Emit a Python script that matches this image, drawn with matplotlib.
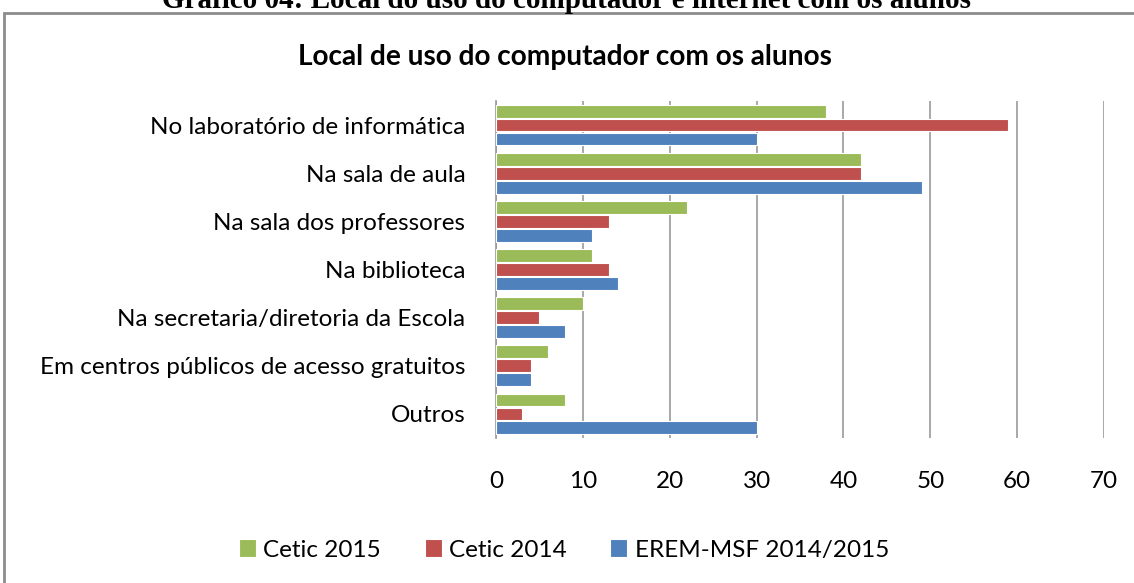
import matplotlib.pyplot as plt
import numpy as np
from matplotlib.patches import Rectangle

# Dados do gráfico
categorias = ["No laboratório de informática", "Na sala de aula", "Na sala dos professores",
              "Na biblioteca", "Na secretaria/diretoria da Escola",
              "Em centros públicos de acesso gratuitos", "Outros"]
cetic_2015 = [38, 42, 22, 11, 10, 6, 8]
cetic_2014 = [59, 42, 13, 13, 5, 4, 3]
erem_msf = [30, 49, 11, 14, 8, 4, 30]
series = ["Cetic 2015", "Cetic 2014", "EREM-MSF 2014/2015"]
cores = ["#9BBB59", "#C0504D", "#4F81BD"]

plt.rcParams['font.family'] = ['Lato', 'DejaVu Sans']

fig = plt.figure(figsize=(11.34, 5.83), dpi=100)
W, H = 1134, 583

# moldura do gráfico
fig.patches.append(Rectangle((4 / W, -0.01), 1140 / W, (583 - 13) / H + 0.01,
                             transform=fig.transFigure, fill=False,
                             edgecolor="#8c8c8c", linewidth=2))
fig.text(0.5, 1.0 - 8 / H, "Gráfico 04: Local do uso do computador e internet com os alunos",
         ha="center", va="baseline", fontsize=21, fontweight="bold",
         family=["Liberation Serif", "DejaVu Serif"])

fig.text(565 / W, 1 - 57 / H, "Local de uso do computador com os alunos",
         ha="center", va="center", fontsize=20.2, fontweight="bold")

ax = fig.add_axes([496 / W, 1 - 438 / H, (1104 - 496) / W, (438 - 101) / H])

y = np.arange(len(categorias))
h = 0.29
for i, (vals, cor, nome) in enumerate(zip([cetic_2015, cetic_2014, erem_msf], cores, series)):
    ax.barh(y + (i - 1) * h, vals, height=h * 0.92, color=cor, edgecolor="white",
            linewidth=0.8, label=nome, zorder=3)

ax.set_xlim(0, 70)
ax.set_ylim(len(categorias) - 0.5, -0.5)
ax.set_xticks(range(0, 71, 10))
ax.set_yticks(y)
ax.set_yticklabels(categorias, fontsize=17.5)
ax.tick_params(axis="x", labelsize=17.5, length=0, pad=24)
ax.tick_params(axis="y", length=0, pad=22)
ax.grid(axis="x", color="#999999", linewidth=1.2, zorder=0)
for s in ["top", "right", "bottom"]:
    ax.spines[s].set_visible(False)
ax.spines["left"].set_color("#999999")
ax.spines["left"].set_linewidth(1.2)

fig.legend(loc="center", bbox_to_anchor=(564 / W, 1 - 550 / H), ncol=3, frameon=False,
           fontsize=17.5, handlelength=0.7, handleheight=0.7, handletextpad=0.3,
           columnspacing=1.8)

fig.savefig("out.png", dpi=100)
